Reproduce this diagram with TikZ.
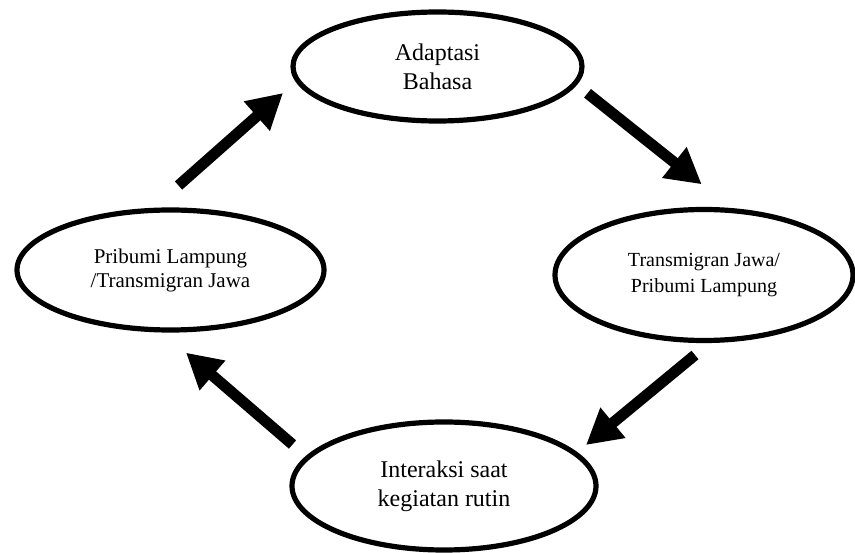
\documentclass[tikz,border=0pt]{standalone}
\usepackage{fontspec}
\setmainfont{Liberation Serif}
\usetikzlibrary{arrows.meta,shapes.geometric}

\tikzset{
	elips/.style={ellipse, draw, line width=5.2pt, inner sep=0pt, align=center},
	panah/.style={line width=11pt, -{Triangle[length=35pt,width=37pt]}}
}

\begin{document}
\begin{tikzpicture}[x=1pt,y=-1pt]
	\useasboundingbox (0,0) rectangle (855,553);

		% Simpul
		\node[elips, minimum width=289pt, minimum height=109pt, font=\fontsize{24}{29}\selectfont] (adaptasi) at (437.5,66.5) {Adaptasi\\Bahasa};
		\node[elips, minimum width=298pt, minimum height=131pt, font=\fontsize{20}{26}\selectfont] (transjawa) at (704,275) {Transmigran Jawa/\\Pribumi Lampung};
		\node[elips, minimum width=304pt, minimum height=128pt, font=\fontsize{24}{29}\selectfont] (interaksi) at (444,486) {Interaksi saat\\kegiatan rutin};
		\node[elips, minimum width=307pt, minimum height=120pt, font=\fontsize{21}{24}\selectfont] (pribumi) at (170.5,270) {Pribumi Lampung\\/Transmigran Jawa};

		% Ujung panah
		\coordinate (kiri_atas_a) at (178.5,185.5);
		\coordinate (kiri_atas_b) at (283,93);
		\coordinate (kanan_atas_a) at (587.5,93.3);
		\coordinate (kanan_atas_b) at (701.7,184.3);
		\coordinate (kanan_bawah_a) at (695,355);
		\coordinate (kanan_bawah_b) at (586,445);
		\coordinate (kiri_bawah_a) at (292.5,444.5);
		\coordinate (kiri_bawah_b) at (186,352.7);

		% Panah
		\draw[panah] (kiri_atas_a) -- (kiri_atas_b);
		\draw[panah] (kanan_atas_a) -- (kanan_atas_b);
		\draw[panah] (kanan_bawah_a) -- (kanan_bawah_b);
		\draw[panah] (kiri_bawah_a) -- (kiri_bawah_b);

	\end{tikzpicture}
\end{document}
